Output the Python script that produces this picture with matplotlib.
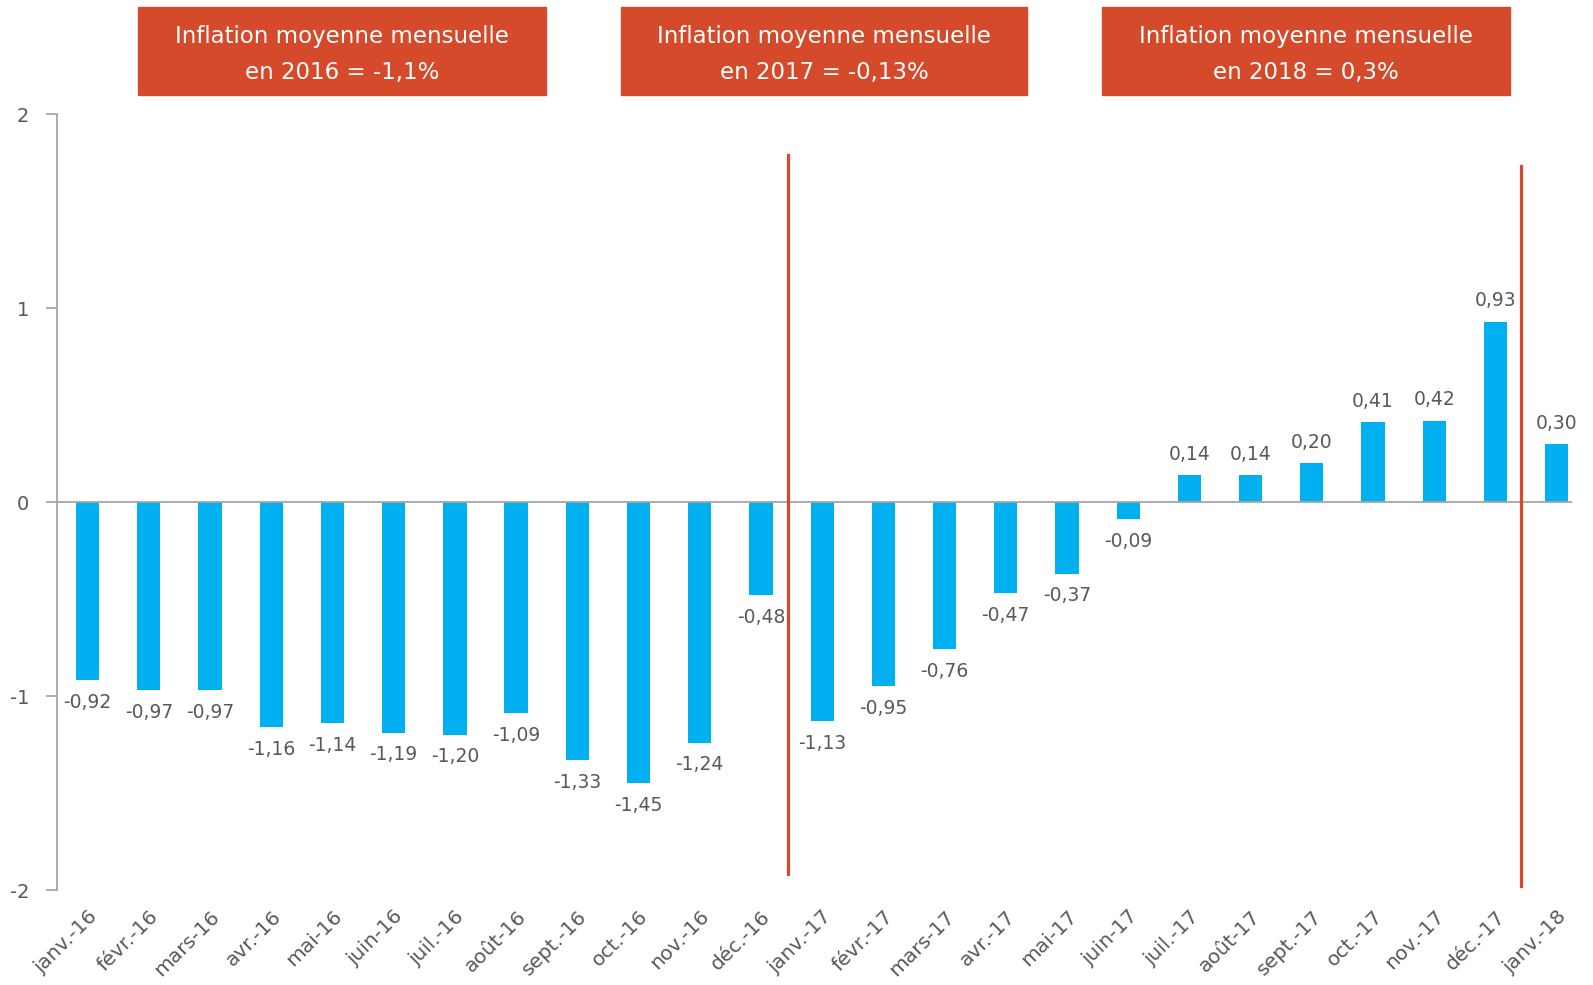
import matplotlib
matplotlib.use("Agg")
import matplotlib.pyplot as plt
from matplotlib.patches import Rectangle

months = ["janv.-16", "févr.-16", "mars-16", "avr.-16", "mai-16", "juin-16", "juil.-16",
          "août-16", "sept.-16", "oct.-16", "nov.-16", "déc.-16", "janv.-17", "févr.-17",
          "mars-17", "avr.-17", "mai-17", "juin-17", "juil.-17", "août-17", "sept.-17",
          "oct.-17", "nov.-17", "déc.-17", "janv.-18"]
values = [-0.92, -0.97, -0.97, -1.16, -1.14, -1.19, -1.20, -1.09, -1.33, -1.45, -1.24, -0.48,
          -1.13, -0.95, -0.76, -0.47, -0.37, -0.09, 0.14, 0.14, 0.20, 0.41, 0.42, 0.93, 0.30]
box_line1 = ["Inflation moyenne mensuelle"] * 3
box_line2 = ["en 2016 = -1,1%", "en 2017 = -0,13%", "en 2018 = 0,3%"]
yticks = [-2, -1, 0, 1, 2]

BAR = "#00B0F0"
RED = "#D54A2A"
GRAY = "#595959"
AXC = "#A6A6A6"

plt.rcParams['font.family'] = ['DejaVu Sans']
W, H = 1593, 985
fig = plt.figure(figsize=(W / 100, H / 100), dpi=100)
ax = fig.add_axes([57 / W, 1 - 890 / H, (1572 - 57) / W, (890 - 114) / H])

x = list(range(len(values)))
ax.bar(x, values, width=0.38, color=BAR, zorder=2)
ax.set_xlim(-0.5, 24.25)
ax.set_ylim(-2, 2)
ax.axhline(0, color=AXC, lw=1.3, zorder=3)

for xi, v in zip(x, values):
    s = f"{v:.2f}".replace(".", ",")
    if v < 0:
        ax.annotate(s, (xi, v), xytext=(0, -9), textcoords="offset points",
                    ha="center", va="top", fontsize=13.5, color=GRAY)
    else:
        ax.annotate(s, (xi, v), xytext=(0, 8), textcoords="offset points",
                    ha="center", va="bottom", fontsize=13.5, color=GRAY)

# red separators
ax.plot([11.45, 11.45], [-1.92, 1.79], color=RED, lw=2.3, zorder=4, clip_on=False)
ax.plot([23.42, 23.42], [-1.98, 1.73], color=RED, lw=2.3, zorder=4, clip_on=False)

ax.set_yticks(yticks)
ax.set_yticklabels([str(t) for t in yticks], fontsize=14, color=GRAY)
ax.set_xticks(x)
ax.set_xticklabels(months, rotation=45, ha="right", rotation_mode="anchor",
                   fontsize=14.5, color=GRAY)
ax.tick_params(axis="x", length=0, pad=12)
ax.tick_params(axis="y", length=8, direction="out", color=AXC, width=1.3, pad=12)
for sp in ["top", "right", "bottom"]:
    ax.spines[sp].set_visible(False)
ax.spines["left"].set_color(AXC)
ax.spines["left"].set_linewidth(1.3)

# header boxes
boxes = [(138, 546), (621, 1027), (1102, 1510)]
for (x0, x1), t1, t2 in zip(boxes, box_line1, box_line2):
    fig.add_artist(Rectangle((x0 / W, 1 - 95 / H), (x1 - x0) / W, 88 / H,
                             transform=fig.transFigure, color=RED, zorder=5))
    cx = (x0 + x1) / 2 / W
    fig.text(cx, 1 - 37 / H, t1, ha="center", va="center",
             color="white", fontsize=16.5, zorder=6)
    fig.text(cx, 1 - 72 / H, t2, ha="center", va="center",
             color="white", fontsize=16.5, zorder=6)

fig.savefig("out.png", dpi=100, facecolor="white")
